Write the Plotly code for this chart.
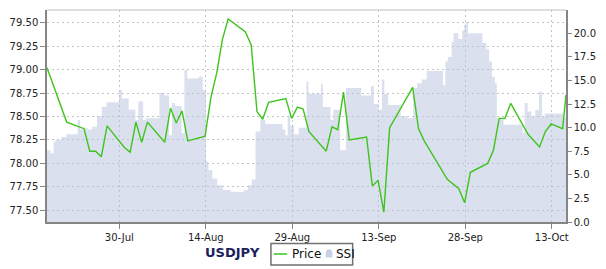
import plotly.graph_objects as go

# ---------------- data ----------------
price_time = [
    "2012-07-17 11:00", "2012-07-20 21:00", "2012-07-23 21:00", "2012-07-24 21:00",
    "2012-07-25 21:00", "2012-07-26 21:00", "2012-07-27 21:00", "2012-07-30 21:00",
    "2012-07-31 21:00", "2012-08-01 21:00", "2012-08-02 21:00", "2012-08-03 21:00",
    "2012-08-06 21:00", "2012-08-07 21:00", "2012-08-08 21:00", "2012-08-09 21:00",
    "2012-08-10 21:00", "2012-08-13 21:00", "2012-08-14 21:00", "2012-08-15 21:00",
    "2012-08-16 21:00", "2012-08-17 21:00", "2012-08-20 21:00", "2012-08-21 21:00",
    "2012-08-22 21:00", "2012-08-23 21:00", "2012-08-24 21:00", "2012-08-27 21:00",
    "2012-08-28 21:00", "2012-08-29 21:00", "2012-08-30 21:00", "2012-08-31 21:00",
    "2012-09-03 21:00", "2012-09-04 21:00", "2012-09-05 21:00", "2012-09-06 21:00",
    "2012-09-07 21:00", "2012-09-10 21:00", "2012-09-11 21:00", "2012-09-12 21:00",
    "2012-09-13 21:00", "2012-09-14 21:00", "2012-09-18 21:00", "2012-09-19 21:00",
    "2012-09-20 21:00", "2012-09-24 21:00", "2012-09-26 21:00", "2012-09-27 21:00",
    "2012-09-28 21:00", "2012-10-01 21:00", "2012-10-02 21:00", "2012-10-03 21:00",
    "2012-10-04 21:00", "2012-10-05 21:00", "2012-10-08 21:00", "2012-10-10 21:00",
    "2012-10-11 21:00", "2012-10-12 21:00", "2012-10-14 21:00", "2012-10-15 11:00",
]
price_value = [
    79.02, 78.44, 78.37, 78.13,
    78.13, 78.07, 78.40, 78.17,
    78.12, 78.44, 78.225, 78.44,
    78.225, 78.59, 78.43, 78.56,
    78.24, 78.29, 78.70, 78.96,
    79.32, 79.54, 79.40, 79.26,
    78.55, 78.47, 78.65, 78.69,
    78.48, 78.60, 78.58, 78.34,
    78.13, 78.39, 78.36, 78.76,
    78.25, 78.28, 77.76, 77.82,
    77.48, 78.38, 78.81, 78.37,
    78.24, 77.83, 77.73, 77.58,
    77.905, 78.00, 78.14, 78.48,
    78.48, 78.64, 78.31, 78.175,
    78.34, 78.42, 78.37, 78.73,
]

ssi_time = [
    "2012-07-17 11:00", "2012-07-18 01:00", "2012-07-18 15:00", "2012-07-18 23:00",
    "2012-07-19 23:00", "2012-07-20 19:00", "2012-07-22 19:00", "2012-07-23 05:00",
    "2012-07-23 19:00", "2012-07-24 11:00", "2012-07-25 07:00", "2012-07-26 03:00",
    "2012-07-26 23:00", "2012-07-27 19:00", "2012-07-29 23:00", "2012-07-30 11:00",
    "2012-07-31 15:00", "2012-08-01 19:00", "2012-08-02 07:00", "2012-08-03 03:00",
    "2012-08-03 15:00", "2012-08-05 23:00", "2012-08-06 19:00", "2012-08-07 15:00",
    "2012-08-08 03:00", "2012-08-08 15:00", "2012-08-09 19:00", "2012-08-10 07:00",
    "2012-08-10 19:00", "2012-08-12 19:00", "2012-08-13 11:00", "2012-08-14 01:00",
    "2012-08-14 11:00", "2012-08-15 03:00", "2012-08-15 23:00", "2012-08-16 23:00",
    "2012-08-18 07:00", "2012-08-20 15:00", "2012-08-21 07:00", "2012-08-21 23:00",
    "2012-08-22 15:00", "2012-08-23 11:00", "2012-08-24 07:00", "2012-08-27 07:00",
    "2012-08-27 19:00", "2012-08-28 05:00", "2012-08-28 15:00", "2012-08-29 07:00",
    "2012-08-30 03:00", "2012-08-31 11:00", "2012-08-31 19:00", "2012-09-02 23:00",
    "2012-09-03 07:00", "2012-09-04 15:00", "2012-09-05 03:00", "2012-09-06 07:00",
    "2012-09-07 07:00", "2012-09-09 23:00", "2012-09-11 15:00", "2012-09-12 03:00",
    "2012-09-12 23:00", "2012-09-13 13:00", "2012-09-13 23:00", "2012-09-14 15:00",
    "2012-09-16 19:00", "2012-09-17 23:00", "2012-09-18 23:00", "2012-09-19 15:00",
    "2012-09-20 11:00", "2012-09-21 07:00", "2012-09-24 03:00", "2012-09-24 13:00",
    "2012-09-24 23:00", "2012-09-25 15:00", "2012-09-25 23:00", "2012-09-26 19:00",
    "2012-09-27 11:00", "2012-09-27 19:00", "2012-09-28 03:00", "2012-09-28 11:00",
    "2012-09-30 23:00", "2012-10-01 15:00", "2012-10-02 03:00", "2012-10-02 15:00",
    "2012-10-03 03:00", "2012-10-03 11:00", "2012-10-04 15:00", "2012-10-07 23:00",
    "2012-10-08 07:00", "2012-10-08 19:00", "2012-10-09 11:00", "2012-10-10 03:00",
    "2012-10-10 19:00", "2012-10-11 07:00", "2012-10-11 19:00", "2012-10-14 23:00",
    "2012-10-15 11:00",
]
ssi_value = [
    7.6, 7.3, 8.5, 8.7,
    9.0, 9.3, 10.8, 9.8,
    10.0, 9.8, 10.1, 11.2,
    12.2, 12.7, 14.0, 13.1,
    11.9, 10.8, 12.8, 10.8,
    11.0, 13.7, 13.4, 9.2,
    12.6, 12.3, 9.4, 16.1,
    15.2, 15.4, 14.0, 6.4,
    5.5, 4.6, 3.9, 3.4,
    3.2, 3.4, 3.9, 4.5,
    9.6, 10.8, 10.4, 9.8,
    9.2, 11.3, 10.2, 9.3,
    10.0, 14.9, 13.6, 14.6,
    12.2, 10.8, 11.9, 7.6,
    14.2, 13.4, 14.4, 12.5,
    11.9, 15.1, 13.6, 12.4,
    11.2, 11.0, 14.2, 14.7,
    15.1, 16.0, 14.5, 17.0,
    17.5, 19.1, 20.0, 19.4,
    20.3, 20.9, 21.2, 20.0,
    19.0, 18.3, 17.0, 15.4,
    14.7, 11.0, 10.3, 9.4,
    12.6, 11.7, 11.2, 11.9,
    13.8, 11.2, 11.5, 11.0,
    11.0,
]

x_ticks = ["2012-07-30", "2012-08-14", "2012-08-29", "2012-09-13", "2012-09-28", "2012-10-13"]
price_ticks = [77.50, 77.75, 78.00, 78.25, 78.50, 78.75, 79.00, 79.25, 79.50]
ssi_ticks = [0.0, 2.5, 5.0, 7.5, 10.0, 12.5, 15.0, 17.5, 20.0]
x_range = ["2012-07-17 11:00", "2012-10-15 11:00"]
price_range = [77.375, 79.635]
ssi_range = [0, 22.47]

# ---------------- layout geometry ----------------
W, H = 606, 269
ML, MR, MT, MB = 35, 31, 10, 47
PW, PH = W - ML - MR, H - MT - MB


def px(x):
    return (x - ML) / PW


def py(y):
    return (H - MB - y) / PH


FONT = "DejaVu Sans"
AXIS = "#858585"
GRID = "#c4c4c4"
DASH = "2px,3px"

fig = go.Figure()
fig.add_trace(go.Scatter(
    x=ssi_time, y=ssi_value, name="SSI", yaxis="y", mode="lines",
    line=dict(width=0, shape="hv"), fill="tozeroy",
    fillcolor="rgba(181,193,221,0.5)", showlegend=False, hoverinfo="skip",
))
fig.add_trace(go.Scatter(
    x=price_time, y=price_value, name="Price", yaxis="y2", mode="lines",
    line=dict(color="#3ec41c", width=1.4), showlegend=False,
))

fig.update_layout(
    width=W, height=H,
    margin=dict(l=ML, r=MR, t=MT, b=MB, pad=0),
    paper_bgcolor="white", plot_bgcolor="white",
    font=dict(family=FONT, size=10, color="#222"),
    xaxis=dict(
        type="date", range=x_range, tickvals=x_ticks, tickformat="%d-%b",
        showgrid=True, gridcolor=GRID, griddash=DASH, gridwidth=1,
        showline=True, linecolor=AXIS, linewidth=1.5,
        ticks="outside", ticklen=5, tickcolor=AXIS,
        tickfont=dict(family=FONT, size=10, color="#222"),
        zeroline=False,
    ),
    yaxis=dict(
        range=ssi_range, tickvals=ssi_ticks, tickformat=".1f", side="right",
        showgrid=False, zeroline=False,
        showline=True, linecolor=AXIS, linewidth=1.5,
        ticks="outside", ticklen=4, tickcolor=AXIS,
        tickfont=dict(family=FONT, size=10, color="#222"),
    ),
    yaxis2=dict(
        range=price_range, tickvals=price_ticks, tickformat=".2f", side="left",
        overlaying="y",
        showgrid=True, gridcolor=GRID, griddash=DASH, gridwidth=1,
        zeroline=False,
        showline=True, linecolor=AXIS, linewidth=1.5,
        ticks="outside", ticklen=5, tickcolor=AXIS,
        tickfont=dict(family=FONT, size=10, color="#222"),
    ),
    showlegend=False,
)

shapes = [
    # top border of plot
    dict(type="line", xref="paper", yref="paper", x0=0, x1=1, y0=1, y1=1,
         line=dict(color="#bdbdbd", width=1.2)),
    # legend box
    dict(type="rect", xref="paper", yref="paper",
         x0=px(268), x1=px(353), y0=py(265), y1=py(243.5),
         line=dict(color="#707070", width=1.5), fillcolor="white"),
    # legend line sample for Price
    dict(type="line", xref="paper", yref="paper",
         x0=px(271), x1=px(285), y0=py(254), y1=py(254),
         line=dict(color="#3ec41c", width=1.5)),
    # legend area symbol for SSI
    dict(type="path", xref="paper", yref="paper",
         path=(f"M {px(325)},{py(257.5)} L {px(325)},{py(253)} "
               f"C {px(325)},{py(248)} {px(332)},{py(248)} {px(332)},{py(253)} "
               f"L {px(332)},{py(257.5)} Z"),
         line=dict(width=0), fillcolor="#c9d1e6"),
]
fig.update_layout(shapes=shapes)

annotations = [
    dict(text="<b>USDJPY</b>", xref="paper", yref="paper", x=px(228), y=py(252.5),
         xanchor="center", yanchor="middle", showarrow=False,
         font=dict(family=FONT, size=13, color="#1b215c")),
    dict(text="Price", xref="paper", yref="paper", x=px(288), y=py(254),
         xanchor="left", yanchor="middle", showarrow=False,
         font=dict(family=FONT, size=12, color="#111")),
    dict(text="SSI", xref="paper", yref="paper", x=px(334), y=py(254),
         xanchor="left", yanchor="middle", showarrow=False,
         font=dict(family=FONT, size=12, color="#111")),
]
fig.update_layout(annotations=annotations)

fig.write_html("out.html")
